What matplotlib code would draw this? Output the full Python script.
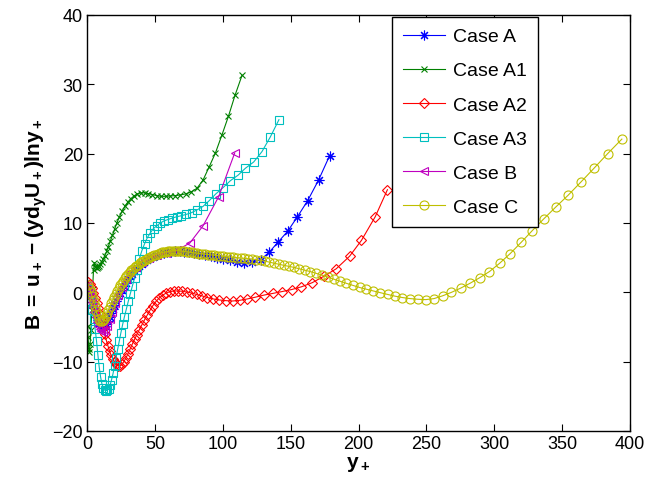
import matplotlib
matplotlib.use("Agg")
import matplotlib.pyplot as plt

plt.rcParams["font.family"] = ["Liberation Sans", "DejaVu Sans"]
plt.rcParams["mathtext.fontset"] = "custom"
plt.rcParams["mathtext.rm"] = "Liberation Sans"
plt.rcParams["mathtext.bf"] = "Liberation Sans:bold"
plt.rcParams["mathtext.it"] = "Liberation Sans:italic"

# Case A
case_a_x = [1, 2, 3, 4, 5, 6, 7, 8, 9, 10, 11, 12.1, 13.2, 14.3, 15.4, 16.6, 17.8, 19,
            20.2, 21.5, 22.8, 24.1, 25.5, 26.9, 28.4, 29.9, 31.5, 33.1, 34.8, 36.6,
            38.4, 40.3, 42.3, 44.4, 46.6, 48.9, 51.3, 53.8, 56.4, 59.1, 62, 65, 68.2,
            71.5, 75, 78.7, 82.6, 86.7, 91, 95.5, 100.3, 105.3, 110.5, 116, 121.8,
            127.9, 134.3, 141, 147.8, 155, 162.5, 170.6, 178.7]
case_a_b = [0.8, 0.2, -0.6, -1.4, -2.2, -2.9, -3.5, -4.0, -4.4, -4.7, -4.85, -4.9, -4.8,
            -4.5, -4.1, -3.6, -3.0, -2.4, -1.8, -1.2, -0.6, -0.1, 0.4, 0.9, 1.4, 1.9,
            2.3, 2.7, 3.1, 3.5, 3.8, 4.1, 4.4, 4.7, 4.95, 5.15, 5.35, 5.5, 5.65, 5.75,
            5.85, 5.9, 5.9, 5.85, 5.8, 5.7, 5.55, 5.4, 5.2, 5.0, 4.8, 4.6, 4.4, 4.3,
            4.35, 4.7, 5.8, 7.3, 8.8, 10.9, 13.2, 16.2, 19.7]

# Case A1
case_a1_x = [0.4, 0.8, 1.3, 1.8, 2.3, 2.9, 3.5, 4.1, 4.8, 5.5, 6.2, 7, 7.9, 8.8, 9.8,
             10.8, 11.9, 13.1, 14.4, 15.7, 17.2, 18.7, 20.3, 22, 23.9, 25.8, 27.8, 30,
             32.2, 34.6, 37.1, 39.7, 42.4, 45.2, 48.2, 51.3, 54.5, 57.9, 61.4, 65, 68.8,
             72.7, 76.8, 81, 85.5, 90, 94.6, 99.4, 104.2, 109, 114.2]
case_a1_b = [-4.8, -6.5, -8.2, -8.6, -7.5, -5.5, -2.5, 0.5, 3.2, 4.3, 3.6, 3.5, 3.6, 3.8,
             4.1, 4.4, 4.8, 5.3, 5.9, 6.6, 7.4, 8.2, 9.1, 10.0, 10.9, 11.7, 12.4, 13.0,
             13.5, 13.9, 14.2, 14.35, 14.35, 14.25, 14.1, 13.95, 13.85, 13.85, 13.9,
             13.95, 14.05, 14.2, 14.5, 15.0, 16.2, 18.1, 20.1, 22.7, 25.4, 28.4, 31.3]

# Case A2
case_a2_x = [1, 2.2, 3.4, 4.6, 5.8, 7, 8.2, 9.4, 10.6, 11.8, 13, 14.2, 15.4, 16.6, 17.8,
             19, 20.3, 21.6, 22.9, 24.3, 25.7, 27.1, 28.6, 30.1, 31.7, 33.3, 35, 36.7,
             38.5, 40.4, 42.3, 44.3, 46.4, 48.6, 50.9, 53.3, 55.8, 58.4, 61.1, 64, 67,
             70.2, 73.5, 77, 80.7, 84.6, 88.7, 93, 97.5, 102.3, 107.3, 112.6, 118.2,
             124, 130.3, 137, 143.4, 150.7, 158, 166, 174.3, 183.6, 193.4, 202.2,
             212.3, 221.3]
case_a2_b = [1.5, 1.2, 0.6, -0.1, -0.8, -1.5, -2.3, -3.1, -4.0, -5.0, -6.0, -6.9, -7.7,
             -8.5, -9.1, -9.6, -10.1, -10.4, -10.6, -10.6, -10.4, -10.0, -9.5, -8.9,
             -8.2, -7.5, -6.8, -6.1, -5.4, -4.7, -4.0, -3.3, -2.6, -1.9, -1.3, -0.8,
             -0.4, -0.1, 0.1, 0.2, 0.2, 0.15, 0.05, -0.1, -0.3, -0.5, -0.75, -0.95,
             -1.1, -1.2, -1.25, -1.15, -0.95, -0.7, -0.4, -0.15, 0.1, 0.4, 0.8, 1.4,
             2.3, 3.4, 5.2, 7.5, 10.9, 14.8]

# Case A3
case_a3_x = [1, 2, 3, 4, 5, 6, 7, 8, 9, 10, 11, 12, 13, 14, 15, 16, 17, 18.1, 19.2, 20.3,
             21.4, 22.6, 23.8, 25, 26.3, 27.6, 29, 30.4, 31.9, 33.4, 35, 36.7, 38.5,
             40.4, 42.4, 44.5, 46.7, 49, 51.4, 54, 56.7, 59.6, 62.7, 66, 69.5, 73.2,
             77.1, 81.2, 85.5, 89.9, 94.9, 100.2, 105.6, 111.3, 116.7, 122.8, 128.9,
             135, 141.4]
case_a3_b = [0.5, -0.3, -1.3, -2.5, -3.8, -5.3, -7.0, -9.0, -10.8, -12.2, -13.2, -13.8,
             -14.1, -14.2, -14.1, -13.9, -13.4, -12.6, -11.7, -10.6, -9.4, -8.2, -7.0,
             -5.8, -4.6, -3.5, -2.4, -1.3, -0.2, 0.9, 2.0, 3.2, 4.8, 6.0, 7.0, 7.9, 8.6,
             9.2, 9.6, 10.0, 10.3, 10.5, 10.7, 10.9, 11.05, 11.25, 11.5, 11.9, 12.4,
             13.2, 14.2, 15.1, 16.1, 16.9, 17.9, 18.8, 20.3, 22.4, 24.9]

# Case B
case_b_x = [0.4, 0.9, 1.5, 2.2, 2.9, 3.7, 4.5, 5.4, 6.3, 7.3, 8.3, 9.4, 10.6, 11.9, 13.3,
            14.9, 16.6, 18.5, 20.6, 22.9, 25.5, 28.5, 31.9, 35.8, 40.3, 45.5, 51.5,
            58.5, 66.5, 75.7, 85.5, 97, 108.8]
case_b_b = [1.0, 0.8, 0.4, -0.1, -0.7, -1.4, -2.1, -2.9, -3.6, -4.3, -4.9, -5.3, -5.6,
            -5.65, -5.4, -4.8, -3.9, -2.8, -1.6, -0.4, 0.8, 1.9, 2.9, 3.7, 4.4, 5.0,
            5.4, 5.7, 6.1, 7.1, 9.6, 13.8, 20.1]

# Case C
case_c_x = [0.8, 1.8, 2.8, 3.8, 4.8, 5.8, 6.8, 7.8, 8.8, 9.8, 10.8, 11.8, 12.8, 13.8,
            14.8, 15.8, 16.9, 18, 19.1, 20.2, 21.3, 22.4, 23.5, 24.6, 25.7, 26.8, 27.9,
            29, 30.2, 31.4, 32.6, 33.8, 35, 36.2, 37.4, 38.7, 40, 41.3, 42.6, 43.9,
            45.2, 46.6, 48, 49.4, 50.8, 52.2, 53.7, 55.2, 56.7, 58.2, 59.8, 61.4, 63,
            64.6, 66.3, 68, 69.7, 71.5, 73.3, 75.1, 77, 78.9, 80.8, 82.8, 84.8, 86.9,
            89, 91.2, 93.4, 95.7, 98, 100.4, 102.8, 105.3, 107.9, 110.5, 113.2, 116,
            118.9, 121.8, 124.8, 127.9, 131.1, 134.4, 137.8, 141.3, 144.9, 148.6,
            152.4, 156.3, 160.3, 164.4, 168.6, 172.9, 177.3, 181.8, 186.4, 191.1,
            195.9, 200.8, 205.8, 210.9, 216.1, 221.4, 226.8, 232.3, 237.9, 243.7,
            249.6, 255.7, 262, 268.5, 275.2, 282.1, 289.2, 296.5, 304, 311.8, 319.8,
            328, 336.5, 345.3, 354.4, 363.8, 373.5, 383.5, 394]
case_c_b = [1.1, 0.6, 0.0, -0.6, -1.3, -2.0, -2.7, -3.3, -3.8, -4.1, -4.2, -4.05, -3.8,
            -3.4, -3.0, -2.6, -2.1, -1.6, -1.1, -0.65, -0.2, 0.2, 0.6, 1.0, 1.35, 1.7,
            2.0, 2.3, 2.6, 2.9, 3.15, 3.4, 3.6, 3.8, 4.0, 4.2, 4.4, 4.55, 4.7, 4.85,
            5.0, 5.15, 5.25, 5.35, 5.45, 5.55, 5.65, 5.75, 5.8, 5.85, 5.9, 5.95, 6.0,
            6.0, 6.0, 6.0, 5.95, 5.9, 5.85, 5.8, 5.75, 5.7, 5.65, 5.6, 5.55, 5.5, 5.45,
            5.4, 5.35, 5.3, 5.25, 5.2, 5.15, 5.1, 5.05, 5.0, 4.95, 4.9, 4.85, 4.8, 4.7,
            4.6, 4.5, 4.35, 4.2, 4.05, 3.9, 3.75, 3.6, 3.4, 3.2, 3.0, 2.75, 2.5, 2.2,
            1.9, 1.6, 1.3, 1.0, 0.7, 0.45, 0.2, -0.05, -0.3, -0.55, -0.75, -0.9, -1.0,
            -1.05, -0.9, -0.5, 0.0, 0.6, 1.3, 2.1, 3.0, 4.2, 5.6, 7.2, 8.9, 10.6, 12.3,
            14.0, 15.9, 17.9, 20.0, 22.1]

labels = ["Case A", "Case A1", "Case A2", "Case A3", "Case B", "Case C"]
colors = [(0, 0, 1), (0, 0.5, 0), (1, 0, 0), (0, 0.75, 0.75), (0.75, 0, 0.75),
          (0.75, 0.75, 0)]
markers = [(8, 2, 0), "x", "D", "s", "<", "o"]
sizes = [7, 5, 5, 6, 6, 6.5]

series = [(case_a_x, case_a_b), (case_a1_x, case_a1_b), (case_a2_x, case_a2_b),
          (case_a3_x, case_a3_b), (case_b_x, case_b_b), (case_c_x, case_c_b)]

fig = plt.figure(figsize=(6.6, 4.81), dpi=100)
ax = fig.add_axes([87 / 660, 1 - 432 / 481, (630 - 87) / 660, (432 - 16) / 481])

for (xs, bs), lab, c, m, ms in zip(series, labels, colors, markers, sizes):
    ax.plot(xs, bs, "-", color=c, marker=m, markersize=ms,
            markerfacecolor="none", markeredgecolor=c, markeredgewidth=0.8,
            linewidth=0.8, label=lab)

ax.set_xlim(0, 400)
ax.set_ylim(-20, 40)
ax.set_xticks(range(0, 401, 50))
ax.set_yticks(range(-20, 41, 10))
ax.tick_params(direction="in", length=5, width=0.8, top=True, right=True,
               labelsize=13, pad=3)
for s in ax.spines.values():
    s.set_linewidth(1.0)

ax.set_xlabel(r"$\mathbf{y_+}$", fontsize=15, labelpad=1)
ax.set_ylabel(r"$\mathbf{B\;=\;u_+\;{-}\;(yd_yU_+)lny_+}$", fontsize=15, labelpad=2)

leg = ax.legend(loc="upper left", bbox_to_anchor=(392 / 660, 1 - 18 / 481),
                bbox_transform=fig.transFigure, borderaxespad=0, fontsize=14,
                handlelength=2.2, labelspacing=0.85, fancybox=False,
                edgecolor="black", framealpha=1, borderpad=0.55, handletextpad=0.4)
leg.get_frame().set_linewidth(1.0)

plt.savefig("out.png", dpi=100)
